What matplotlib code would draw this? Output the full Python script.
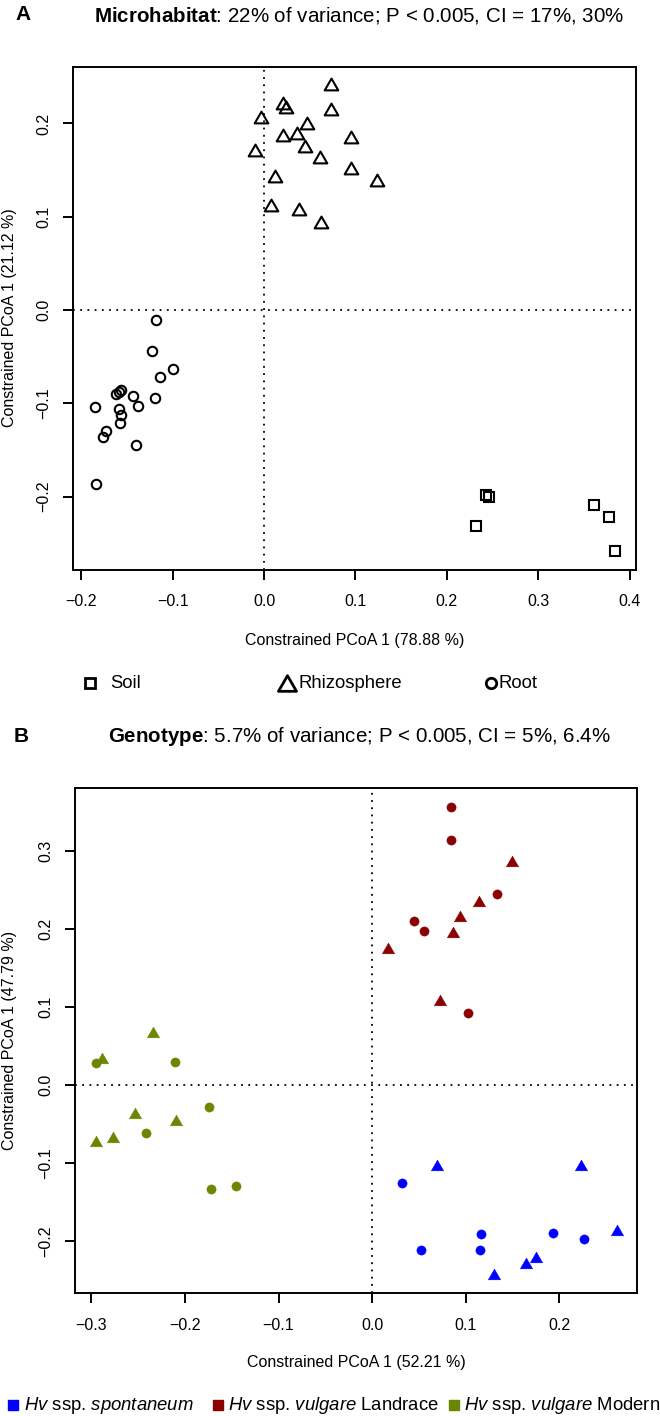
import matplotlib
matplotlib.use("Agg")
import matplotlib.pyplot as plt
from matplotlib.path import Path
import numpy as np

plt.rcParams['font.family'] = ['Liberation Sans', 'DejaVu Sans']
plt.rcParams['mathtext.fontset'] = 'custom'
plt.rcParams['mathtext.rm'] = 'Liberation Sans'
plt.rcParams['mathtext.it'] = 'Liberation Sans:italic'
plt.rcParams['mathtext.bf'] = 'Liberation Sans:bold'

# ---- Panel A: microhabitat ----
soil_x = [0.2434, 0.2460, 0.2321, 0.3615, 0.3780, 0.3841]
soil_y = [-0.1980, -0.2008, -0.2318, -0.2090, -0.2215, -0.2583]
rhizo_x = [0.0731, 0.0212, 0.0241, 0.0731, -0.0036, 0.0468, 0.0212, 0.0358, 0.0954,
           0.0450, -0.0095, 0.0614, 0.0950, 0.0120, 0.1236, 0.0073, 0.0384, 0.0621]
rhizo_y = [0.2420, 0.2220, 0.2180, 0.2150, 0.2065, 0.2008, 0.1876, 0.1900, 0.1858,
           0.1758, 0.1720, 0.1643, 0.1518, 0.1440, 0.1393, 0.1125, 0.1083, 0.0940]
root_x = [-0.1184, -0.1225, -0.0998, -0.1133, -0.1568, -0.1590, -0.1615, -0.1436, -0.1195,
          -0.1853, -0.1374, -0.1587, -0.1560, -0.1579, -0.1729, -0.1760, -0.1404, -0.1835]
root_y = [-0.0110, -0.0443, -0.0632, -0.0722, -0.0857, -0.0875, -0.0900, -0.0922, -0.0940,
          -0.1040, -0.1025, -0.1060, -0.1120, -0.1215, -0.1300, -0.1360, -0.1450, -0.1865]

# ---- Panel B: genotype (circles / triangles) ----
spont_circ_x = [0.0319, 0.0521, 0.1167, 0.1150, 0.1929, 0.2259]
spont_circ_y = [-0.1259, -0.2110, -0.1905, -0.2114, -0.1896, -0.1969]
spont_tri_x = [0.0692, 0.2227, 0.2621, 0.1747, 0.1647, 0.1307]
spont_tri_y = [-0.1019, -0.1019, -0.1858, -0.2200, -0.2286, -0.2422]
land_circ_x = [0.0844, 0.0841, 0.1332, 0.0450, 0.0557, 0.1022]
land_circ_y = [0.3567, 0.3140, 0.2447, 0.2104, 0.1972, 0.0923]
land_tri_x = [0.1491, 0.1146, 0.0940, 0.0866, 0.0170, 0.0724]
land_tri_y = [0.2874, 0.2357, 0.2168, 0.1959, 0.1754, 0.1095]
modern_circ_x = [-0.2951, -0.2106, -0.1739, -0.2418, -0.1725, -0.1458]
modern_circ_y = [0.0281, 0.0294, -0.0284, -0.0608, -0.1331, -0.1289]
modern_tri_x = [-0.2343, -0.2884, -0.2535, -0.2098, -0.2770, -0.2951]
modern_tri_y = [0.0679, 0.0350, -0.0356, -0.0442, -0.0660, -0.0711]

col_spont = '#0000FF'
col_land = '#8B0000'
col_modern = '#6B8700'

W, H = 660, 1416
fig = plt.figure(figsize=(W / 100, H / 100), dpi=100)

tri = Path([(0, 0.866), (-1, -0.866), (1, -0.866), (0, 0.866)], closed=True)

def style_axes(ax, xticks, yticks, xlim, ylim):
    ax.set_xlim(*xlim)
    ax.set_ylim(*ylim)
    ax.set_xticks(xticks)
    ax.set_yticks(yticks)
    ax.set_xticklabels([f"{t:.1f}".replace('-', '\u2212') for t in xticks])
    ax.set_yticklabels([f"{t:.1f}".replace('-', '\u2212') for t in yticks])
    for s in ax.spines.values():
        s.set_linewidth(1.4)
    ax.tick_params(length=7, width=1.4, labelsize=11.5)
    ax.tick_params(axis='x', pad=10.5)
    ax.tick_params(axis='y', pad=8.5, labelrotation=90)
    for lab in ax.get_yticklabels():
        lab.set_va('center')
    ax.axvline(0, color='black', lw=1.3, ls=(0, (1, 3)))
    ax.axhline(0, color='black', lw=1.3, ls=(0, (1, 3)))

# Panel A
axA = fig.add_axes([73 / W, 1 - 569.5 / H, (636 - 73) / W, (569.5 - 67) / H])
style_axes(axA, [-0.2, -0.1, 0.0, 0.1, 0.2, 0.3, 0.4], [-0.2, -0.1, 0.0, 0.1, 0.2],
           (-0.209, 0.407), (-0.278, 0.2605))
kw = dict(ls='none', mfc='none', mec='black', mew=1.5)
axA.plot(soil_x, soil_y, marker='s', ms=6.5, **kw)
axA.plot(rhizo_x, rhizo_y, marker=tri, ms=9.8, **kw)
axA.plot(root_x, root_y, marker='o', ms=6.8, **kw)

# Panel B
axB = fig.add_axes([74.5 / W, 1 - 1293.3 / H, (637 - 74.5) / W, (1293.3 - 788) / H])
style_axes(axB, [-0.3, -0.2, -0.1, 0.0, 0.1, 0.2], [-0.2, -0.1, 0.0, 0.1, 0.2, 0.3],
           (-0.318, 0.283), (-0.267, 0.381))
for cx, cy, tx, ty, c in [(spont_circ_x, spont_circ_y, spont_tri_x, spont_tri_y, col_spont),
                          (land_circ_x, land_circ_y, land_tri_x, land_tri_y, col_land),
                          (modern_circ_x, modern_circ_y, modern_tri_x, modern_tri_y, col_modern)]:
    axB.plot(cx, cy, ls='none', marker='o', ms=6.6, mfc=c, mec=c, mew=0.4)
    axB.plot(tx, ty, ls='none', marker=tri, ms=8.8, mfc=c, mec=c, mew=0.4)

# overlay in pixel coordinates for titles, labels, legends
ov = fig.add_axes([0, 0, 1, 1])
ov.set_xlim(0, W)
ov.set_ylim(H, 0)
ov.axis('off')

ov.text(23, 15, 'A', fontsize=15, fontweight='bold', ha='center', va='center')
ov.text(359, 15, r'$\mathbf{Microhabitat}$: 22% of variance; P < 0.005, CI = 17%, 30%',
        fontsize=14.8, ha='center', va='center')
ov.text(354.5, 640, 'Constrained PCoA 1 (78.88 %)', fontsize=11.5, ha='center', va='center')
ov.text(9.5, 318, 'Constrained PCoA 1 (21.12 %)', fontsize=11.5, ha='center', va='center',
        rotation=90)

legA = [('s', 7.5, 90, 110, 'Soil'), (tri, 13, 287, 299, 'Rhizosphere'), ('o', 7.5, 491, 498, 'Root')]
for m, ms, mx, tx, lab in legA:
    ov.plot([mx], [683], ls='none', marker=m, ms=ms, mfc='none', mec='black', mew=2)
    ov.text(tx, 683, lab, fontsize=13.3, ha='left', va='center')

ov.text(21, 737, 'B', fontsize=15, fontweight='bold', ha='center', va='center')
ov.text(359, 737, r'$\mathbf{Genotype}$: 5.7% of variance; P < 0.005, CI = 5%, 6.4%',
        fontsize=14.8, ha='center', va='center')
ov.text(356, 1363, 'Constrained PCoA 1 (52.21 %)', fontsize=11.5, ha='center', va='center')
ov.text(9.5, 1040, 'Constrained PCoA 1 (47.79 %)', fontsize=11.5, ha='center', va='center',
        rotation=90)

legB = [(col_spont, 13, 24, r'$\mathit{Hv}$ ssp. $\mathit{spontaneum}$'),
        (col_land, 218, 228.5, r'$\mathit{Hv}$ ssp. $\mathit{vulgare}$ Landrace'),
        (col_modern, 454, 464, r'$\mathit{Hv}$ ssp. $\mathit{vulgare}$ Modern')]
for c, mx, tx, lab in legB:
    ov.plot([mx], [1405], ls='none', marker='s', ms=7.2, mfc=c, mec=c)
    ov.text(tx, 1405, lab, fontsize=13.3, ha='left', va='center')

fig.savefig('out.png', dpi=100)
